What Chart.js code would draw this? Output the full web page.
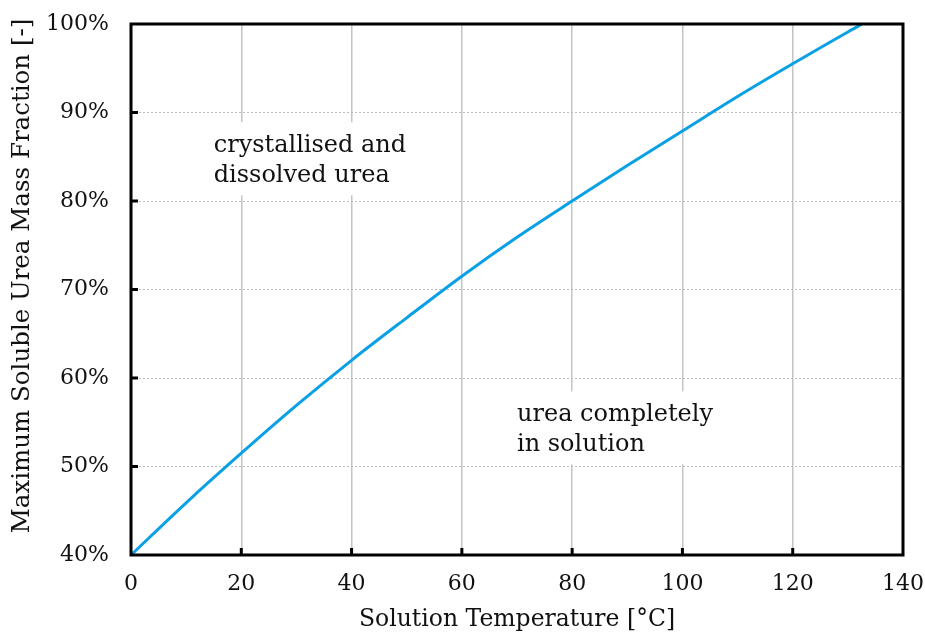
<!DOCTYPE html>
<html>
<head>
<meta charset="utf-8">
<script src="https://cdn.jsdelivr.net/npm/chart.js@4/dist/chart.umd.min.js"></script>
<style>
  html, body { margin: 0; padding: 0; background: #fff; }
  #wrap { width: 925px; height: 634px; }
</style>
</head>
<body>
<div id="wrap"><canvas id="solubilityChart" width="925" height="634"></canvas></div>
<script>
// solubility curve
const temperatures = [0, 10, 20, 30, 40, 50, 60, 70, 80, 90, 100, 110, 120, 130, 132.6];
const massFraction = [40, 45.9, 51.5, 56.9, 62.0, 66.8, 71.5, 75.9, 80.0, 84.0, 87.9, 91.8, 95.5, 99.1, 100];

const xTicks = [0, 20, 40, 60, 80, 100, 120, 140];
const yTicks = [40, 50, 60, 70, 80, 90, 100];

const yTitle = 'Maximum Soluble Urea Mass Fraction [-]';

const regionLabels = [
    { x: 15, y: 85.5, lines: ['crystallised and', 'dissolved urea'] },
    { x: 70, y: 55.1, lines: ['urea completely', 'in solution'] }
];

const FONT = "'DejaVu Serif', serif";

// labels with a white box behind them, drawn over the grid
const regionLabelPlugin = {
    id: 'regionLabels',
    beforeDatasetsDraw(chart) {
        const { ctx, scales } = chart;
        ctx.save();
        ctx.font = '24px ' + FONT;
        ctx.textBaseline = 'alphabetic';
        regionLabels.forEach(lbl => {
            const px = scales.x.getPixelForValue(lbl.x);
            const py = scales.y.getPixelForValue(lbl.y);
            const lh = 30;
            const w = Math.max(...lbl.lines.map(l => ctx.measureText(l).width));
            ctx.fillStyle = '#fff';
            ctx.fillRect(px - 4, py - 30, w + 8, lh * lbl.lines.length + 13);
            ctx.fillStyle = '#111';
            lbl.lines.forEach((l, i) => ctx.fillText(l, px, py + i * lh));
        });
        ctx.restore();
    }
};

// black frame around the plot, inward ticks, and the y title
const framePlugin = {
    id: 'frame',
    afterDatasetsDraw(chart) {
        const { ctx, chartArea: a, scales } = chart;
        ctx.save();
        ctx.strokeStyle = '#000';
        ctx.lineWidth = 3;
        ctx.strokeRect(a.left, a.top, a.right - a.left, a.bottom - a.top);
        ctx.beginPath();
        xTicks.slice(1, -1).forEach(v => {
            const px = scales.x.getPixelForValue(v);
            ctx.moveTo(px, a.bottom);
            ctx.lineTo(px, a.bottom - 7);
        });
        yTicks.slice(1, -1).forEach(v => {
            const py = scales.y.getPixelForValue(v);
            ctx.moveTo(a.left, py);
            ctx.lineTo(a.left + 7, py);
        });
        ctx.stroke();

        ctx.translate(23, 276);
        ctx.rotate(-Math.PI / 2);
        ctx.font = '24.5px ' + FONT;
        ctx.fillStyle = '#111';
        ctx.textAlign = 'center';
        ctx.textBaseline = 'middle';
        ctx.fillText(yTitle, 0, 0);
        ctx.restore();
    }
};

new Chart(document.getElementById('solubilityChart'), {
    type: 'line',
    data: {
        datasets: [{
            data: temperatures.map((t, i) => ({ x: t, y: massFraction[i] })),
            borderColor: '#0aa0e6',
            borderWidth: 3,
            pointRadius: 0,
            cubicInterpolationMode: 'monotone',
            fill: false
        }]
    },
    options: {
        responsive: false,
        animation: false,
        layout: { padding: { top: 24, right: 22, left: 0, bottom: 0 } },
        plugins: { legend: { display: false }, tooltip: { enabled: false } },
        scales: {
            x: {
                type: 'linear',
                min: 0, max: 140,
                afterBuildTicks: s => { s.ticks = xTicks.map(v => ({ value: v })); },
                afterFit: s => { s.height = 79; s.paddingLeft = 0; s.paddingRight = 0; },
                grid: { color: '#c4c4c4', lineWidth: 1.5, drawTicks: false },
                border: { display: false },
                ticks: { color: '#111', font: { family: FONT, size: 22 }, padding: 16 },
                title: {
                    display: true,
                    text: 'Solution Temperature [°C]',
                    color: '#111',
                    font: { family: FONT, size: 23.5 },
                    padding: { top: 0, bottom: 0 }
                }
            },
            y: {
                min: 40, max: 100,
                afterBuildTicks: s => { s.ticks = yTicks.map(v => ({ value: v })); },
                afterFit: s => { s.width = 131; s.paddingTop = 0; s.paddingBottom = 0; },
                grid: { color: '#bdbdbd', lineWidth: 1, drawTicks: false },
                border: { display: false, dash: [2, 2] },
                ticks: {
                    color: '#111',
                    font: { family: FONT, size: 22 },
                    padding: 22,
                    callback: v => v + '%'
                }
            }
        }
    },
    plugins: [regionLabelPlugin, framePlugin]
});
</script>
</body>
</html>
